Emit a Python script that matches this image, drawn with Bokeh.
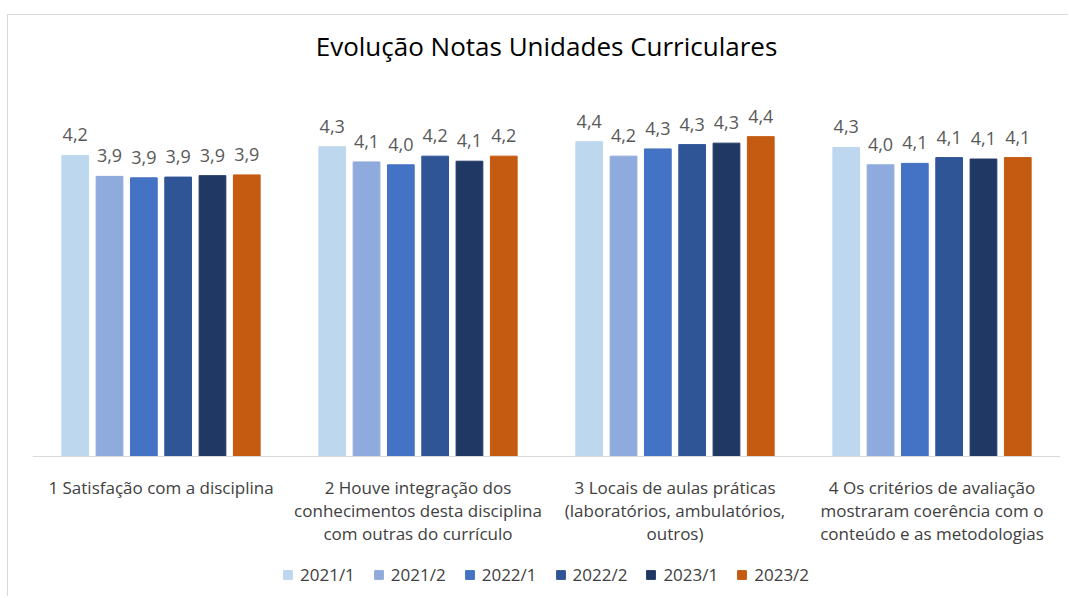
from bokeh.plotting import figure
from bokeh.models import (FactorRange, Legend, LegendItem, LabelSet, ColumnDataSource,
                          Range1d, Span)
from bokeh.core.properties import value
from bokeh.transform import dodge
from bokeh.embed import file_html
from bokeh.resources import INLINE

categories = [
    "1 Satisfação com a disciplina",
    "2 Houve integração dos\nconhecimentos desta disciplina\ncom outras do currículo",
    "3 Locais de aulas práticas\n(laboratórios, ambulatórios,\noutros)",
    "4 Os critérios de avaliação\nmostraram coerência com o\nconteúdo e as metodologias",
]
series_names = ["2021/1", "2021/2", "2022/1", "2022/2", "2023/1", "2023/2"]
v2021_1 = [4.17, 4.29, 4.36, 4.28]
v2021_2 = [3.88, 4.08, 4.16, 4.04]
v2022_1 = [3.86, 4.04, 4.26, 4.06]
v2022_2 = [3.87, 4.16, 4.32, 4.14]
v2023_1 = [3.89, 4.09, 4.34, 4.12]
v2023_2 = [3.90, 4.16, 4.43, 4.14]
series_values = [v2021_1, v2021_2, v2022_1, v2022_2, v2023_1, v2023_2]
colors = ["#BDD7EE", "#8FAADC", "#4472C4", "#2F5597", "#203864", "#C55A11"]

FONT = "Open Sans"

# layout (pixels)
W, H = 1061, 582
TOP, LEFT, RIGHT = 53, 24, 9
PX_PER_UNIT = 72.2
ABOVE_ZERO = 388      # px from frame top to baseline
BELOW_ZERO = H - TOP - ABOVE_ZERO

p = figure(
    x_range=FactorRange(*categories),
    y_range=Range1d(-BELOW_ZERO / PX_PER_UNIT, ABOVE_ZERO / PX_PER_UNIT),
    width=W, height=H,
    output_backend="svg", toolbar_location=None,
    min_border_left=LEFT, min_border_right=RIGHT,
    min_border_top=TOP, min_border_bottom=0,
    title="Evolução Notas Unidades Curriculares",
)
p.margin = (14, 0, 0, 7)
p.styles = {"border-top": "1px solid #d9d9d9", "border-left": "1px solid #d9d9d9"}
p.outline_line_color = None
p.title.align = "center"
p.title.text_font = FONT
p.title.text_font_size = "26px"
p.title.text_font_style = "normal"
p.title.text_color = "#000000"
p.axis.visible = False
p.xgrid.grid_line_color = None
p.ygrid.grid_line_color = None

pitch = 0.1335
bw = 0.104
items = []
for i, (name, vals, col) in enumerate(zip(series_names, series_values, colors)):
    src = ColumnDataSource(dict(
        cat=categories, val=vals,
        lbl=[f"{v:.1f}".replace(".", ",") for v in vals],
    ))
    off = (i - 2.5) * pitch
    r = p.vbar(x=dodge("cat", off, range=p.x_range), top="val", bottom=0, width=bw,
               source=src, fill_color=col, line_color=col)
    labels = LabelSet(x=dodge("cat", off, range=p.x_range), y="val", text="lbl",
                      source=src, text_align="center", text_baseline="alphabetic",
                      y_offset=14, text_font_size="18px", text_color="#595959",
                      text_font=value(FONT))
    p.add_layout(labels)
    items.append(LegendItem(label=name, renderers=[r]))

# category axis line and labels (one label per line, each centred)
p.add_layout(Span(location=0, dimension="width", line_color="#d9d9d9", line_width=1))
lc, lt, lo = [], [], []
for c in categories:
    for k, line in enumerate(c.split("\n")):
        lc.append(c)
        lt.append(line)
        lo.append(-31 - 23 * k)
cat_src = ColumnDataSource(dict(cat=lc, txt=lt, off=lo, y=[0] * len(lc)))
p.add_layout(LabelSet(x="cat", y="y", text="txt", y_offset="off", source=cat_src,
                      text_align="center", text_baseline="middle",
                      text_font=value(FONT), text_font_size="17px", text_color="#404040"))

legend = Legend(items=items, orientation="horizontal", location=(250, 11),
                glyph_width=11, glyph_height=11, label_standoff=7, spacing=18,
                label_text_font=FONT, label_text_font_size="17px",
                label_text_color="#404040", border_line_color=None,
                background_fill_alpha=0, padding=0, margin=0)
p.add_layout(legend)

open("out.html", "w").write(file_html(p, INLINE))
